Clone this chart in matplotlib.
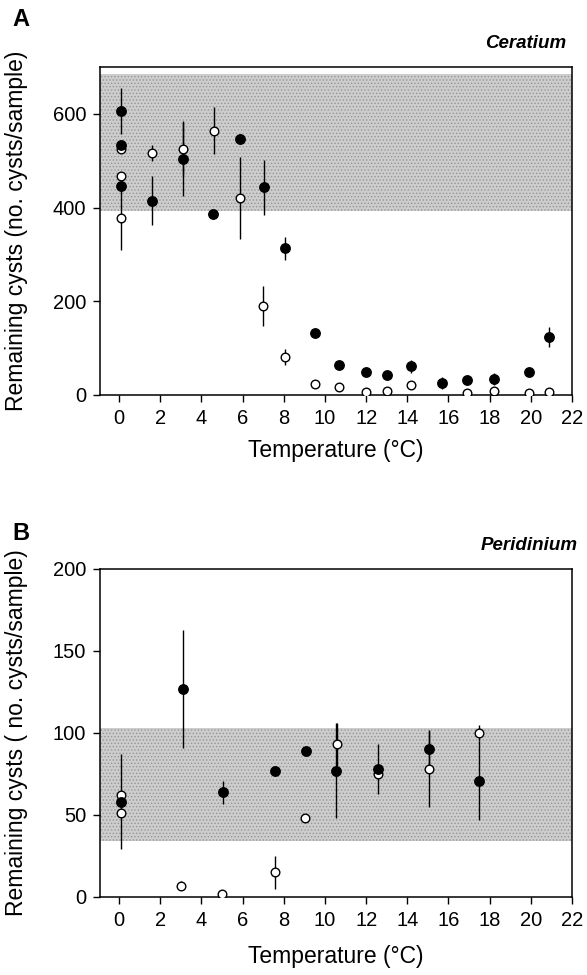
import matplotlib
matplotlib.use("Agg")
import matplotlib.pyplot as plt
import numpy as np

plt.rcParams['font.family'] = ['Liberation Sans', 'DejaVu Sans']
plt.rcParams['hatch.linewidth'] = 0.6

# ---------------- Panel A: Ceratium ----------------
a_fill_x = [0.1, 0.1, 0.1, 1.6, 3.1, 4.55, 5.85, 7.05, 8.05, 9.5, 10.7, 12.0, 13.0, 14.2, 15.7, 16.9, 18.2, 19.9, 20.9]
a_fill_y = [606, 533, 445, 415, 504, 387, 547, 443, 313, 133, 63, 50, 42, 61, 25, 32, 34, 50, 124]
a_fill_e = [50, 0, 0, 53, 80, 0, 0, 58, 25, 0, 0, 0, 0, 13, 13, 0, 13, 0, 22]

a_open_x = [0.1, 0.1, 0.1, 1.6, 3.1, 4.6, 5.85, 7.0, 8.05, 9.5, 10.7, 12.0, 13.0, 14.2, 16.9, 18.2, 19.9, 20.9]
a_open_y = [526, 468, 378, 517, 525, 564, 420, 190, 81, 23, 17, 7, 8, 21, 5, 9, 5, 7]
a_open_e = [0, 0, 68, 17, 55, 50, 88, 43, 17, 0, 0, 0, 0, 0, 0, 0, 0, 0]

a_band = (393, 685)
a_yticks = [0, 200, 400, 600]

# ---------------- Panel B: Peridinium ----------------
b_fill_x = [0.07, 3.1, 5.03, 7.58, 9.07, 10.55, 12.56, 15.04, 17.5]
b_fill_y = [58, 127, 64, 77, 89, 77, 78, 90, 71]
b_fill_e = [29, 36, 7, 0, 0, 29, 15, 12, 24]

b_open_x = [0.07, 0.07, 3.0, 4.99, 7.55, 9.05, 10.58, 12.56, 15.04, 17.5]
b_open_y = [62, 51, 7, 2, 15, 48, 93, 75, 78, 100]
b_open_e = [0, 0, 3, 0, 10, 0, 13, 0, 23, 5]

b_band = (34, 103)
b_yticks = [0, 50, 100, 150, 200]

xticks = list(range(0, 23, 2))

fig = plt.figure(figsize=(5.87, 9.75), dpi=100)
W, H = 587, 975

def make_ax(top_px, bot_px):
    left, right = 100, 572
    return fig.add_axes([left / W, 1 - bot_px / H, (right - left) / W, (bot_px - top_px) / H])

axA = make_ax(67, 395)
axB = make_ax(569, 897)

def draw(ax, fx, fy, fe, ox, oy, oe, band, yticks, ylim, ylabel, name, xlab_y, name_x):
    ax.axhspan(band[0], band[1], facecolor='#cdcdcd', edgecolor='#959595',
               hatch='.....', linewidth=0, zorder=0)
    ax.errorbar(ox, oy, yerr=oe, fmt='none', ecolor='black', elinewidth=1.0, capsize=0, zorder=2)
    ax.errorbar(fx, fy, yerr=fe, fmt='none', ecolor='black', elinewidth=1.0, capsize=0, zorder=2)
    ax.plot(ox, oy, 'o', ms=6.2, mfc='white', mec='black', mew=1.0, ls='none', zorder=3)
    ax.plot(fx, fy, 'o', ms=6.8, mfc='black', mec='black', ls='none', zorder=4)
    ax.set_xlim(-0.93, 22)
    ax.set_ylim(*ylim)
    ax.set_xticks(xticks)
    ax.set_yticks(yticks)
    ax.tick_params(direction='out', length=5, width=1, labelsize=14.5, pad=5)
    for s in ax.spines.values():
        s.set_linewidth(1.1)
    ax.set_xlabel('Temperature (°C)', fontsize=16.5)
    ax.set_ylabel(ylabel, fontsize=16.5)
    ax.yaxis.set_label_coords(-0.152, 0.5)
    ax.xaxis.set_label_coords(0.5, xlab_y)
    ax.text(name_x, 1.045, name, transform=ax.transAxes, ha='right', va='bottom',
            fontsize=13.5, fontweight='bold', fontstyle='italic')

draw(axA, a_fill_x, a_fill_y, a_fill_e, a_open_x, a_open_y, a_open_e, a_band, a_yticks,
     (0, 700), 'Remaining cysts (no. cysts/sample)', 'Ceratium', -0.135, 0.988)
draw(axB, b_fill_x, b_fill_y, b_fill_e, b_open_x, b_open_y, b_open_e, b_band, b_yticks,
     (0, 200), 'Remaining cysts ( no. cysts/sample)', 'Peridinium', -0.145, 1.013)

fig.text(12 / W, 1 - 20 / H, 'A', fontsize=17, fontweight='bold', va='center', ha='left')
fig.text(12 / W, 1 - 534 / H, 'B', fontsize=17, fontweight='bold', va='center', ha='left')

fig.savefig('out.png', dpi=100)
